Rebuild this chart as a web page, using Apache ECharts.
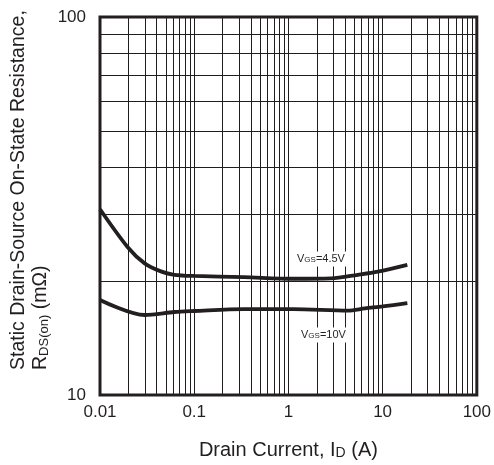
<!DOCTYPE html>
<html><head><meta charset="utf-8">
<script src="https://cdn.jsdelivr.net/npm/echarts@6/dist/echarts.min.js"></script>
<style>html,body{margin:0;padding:0;background:#fff}#c{width:494px;height:465px}</style>
</head><body><div id="c"></div>
<script>
// Data
var xTicks = [0.01, 0.1, 1, 10, 100];
var yTicks = [10, 100];
var idVgs45 = [0.01, 0.0197, 0.0298, 0.045, 0.0616, 0.1, 0.336, 1.13, 2.84, 5.46, 8.9, 18.3];
var rVgs45  = [31.0, 24.6, 22.3, 21.2, 20.8, 20.65, 20.5, 20.3, 20.35, 20.8, 21.2, 22.1];
var idVgs10 = [0.01, 0.0298, 0.0616, 0.1, 0.336, 1.13, 4.28, 6.5, 10, 18.3];
var rVgs10  = [17.84, 16.28, 16.58, 16.68, 16.88, 16.88, 16.72, 16.95, 17.15, 17.5];
var minorMultipliers = [2, 3, 4, 5, 6, 7, 8, 9];

var FONT = '"Liberation Sans", Arial, sans-serif';
var INK = '#231f20';
var GRIDC = '#1e1e1e';

function pairs(xs, ys) { return xs.map(function (x, i) { return [x, ys[i]]; }); }

var minorLines = [];
for (var d = 0; d < xTicks.length - 1; d++) {
  minorMultipliers.forEach(function (m) { minorLines.push({ xAxis: xTicks[d] * m }); });
}
for (var e = 0; e < yTicks.length - 1; e++) {
  minorMultipliers.forEach(function (m) { minorLines.push({ yAxis: yTicks[e] * m }); });
}

var chart = echarts.init(document.getElementById('c'), null, { renderer: 'canvas' });
chart.setOption({
  animation: false,
  backgroundColor: '#fff',
  grid: { left: 100, right: 14, top: 17, bottom: 70, show: true, borderColor: INK, borderWidth: 3, backgroundColor: 'transparent', z: 10 },
  xAxis: {
    type: 'log', logBase: 10, min: 0.01, max: 100,
    axisLine: { show: false }, axisTick: { show: false },
    splitLine: { show: true, lineStyle: { color: GRIDC, width: 1 } },
    axisLabel: { fontFamily: FONT, fontSize: 17, color: INK, margin: 9,
      formatter: function (v) { return String(+v.toPrecision(3)); } },
    name: '{n|Drain Current, I}{s|D}{n| (A)}',
    nameLocation: 'middle', nameGap: 45,
    nameTextStyle: { rich: { n: { fontFamily: FONT, fontSize: 20, color: INK }, s: { fontFamily: FONT, fontSize: 14, color: INK, verticalAlign: 'bottom', padding: [6, 0, 0, 0] } } }
  },
  yAxis: {
    type: 'log', logBase: 10, min: 10, max: 100,
    axisLine: { show: false }, axisTick: { show: false },
    splitLine: { show: true, lineStyle: { color: GRIDC, width: 1 } },
    axisLabel: { fontFamily: FONT, fontSize: 17, color: INK, margin: 14,
      formatter: function (v) { return String(+v.toPrecision(3)); } }
  },
  graphic: [
    { type: 'text', x: 19, y: 370, rotation: Math.PI / 2,
      style: { text: 'Static Drain-Source On-State Resistance,', fontFamily: FONT, fontSize: 19.5, fill: INK, textAlign: 'left', textVerticalAlign: 'middle' } },
    { type: 'text', x: 41, y: 370, rotation: Math.PI / 2,
      style: { text: '{n|R}{s|DS(on)}{n| (mΩ)}', textAlign: 'left', textVerticalAlign: 'middle',
        rich: { n: { fontFamily: FONT, fontSize: 19.5, fill: INK }, s: { fontFamily: FONT, fontSize: 13, fill: INK, padding: [6, 0, 0, 0] } } } },
    { type: 'text', x: 295, y: 259, z: 20,
      style: { text: '{n|V}{s|GS}{n|=4.5V}', textAlign: 'left', textVerticalAlign: 'middle',
        backgroundColor: '#fff', padding: [2, 2, 2, 2],
        rich: { n: { fontFamily: FONT, fontSize: 11, fill: INK }, s: { fontFamily: FONT, fontSize: 8, fill: INK, padding: [2, 0, 0, 0] } } } },
    { type: 'text', x: 299, y: 335, z: 20,
      style: { text: '{n|V}{s|GS}{n|=10V}', textAlign: 'left', textVerticalAlign: 'middle',
        backgroundColor: '#fff', padding: [2, 2, 2, 2],
        rich: { n: { fontFamily: FONT, fontSize: 11, fill: INK }, s: { fontFamily: FONT, fontSize: 8, fill: INK, padding: [2, 0, 0, 0] } } } }
  ],
  series: [
    { type: 'line', name: 'VGS=4.5V', data: pairs(idVgs45, rVgs45), showSymbol: false, symbol: 'none', smooth: 0.3,
      lineStyle: { color: INK, width: 3.8 }, z: 5,
      markLine: { silent: true, symbol: 'none', label: { show: false }, animation: false,
        lineStyle: { color: GRIDC, width: 1, type: 'solid' }, data: minorLines, z: 1 } },
    { type: 'line', name: 'VGS=10V', data: pairs(idVgs10, rVgs10), showSymbol: false, symbol: 'none', smooth: 0.3,
      lineStyle: { color: INK, width: 3.8 }, z: 5 }
  ]
});
</script></body></html>
